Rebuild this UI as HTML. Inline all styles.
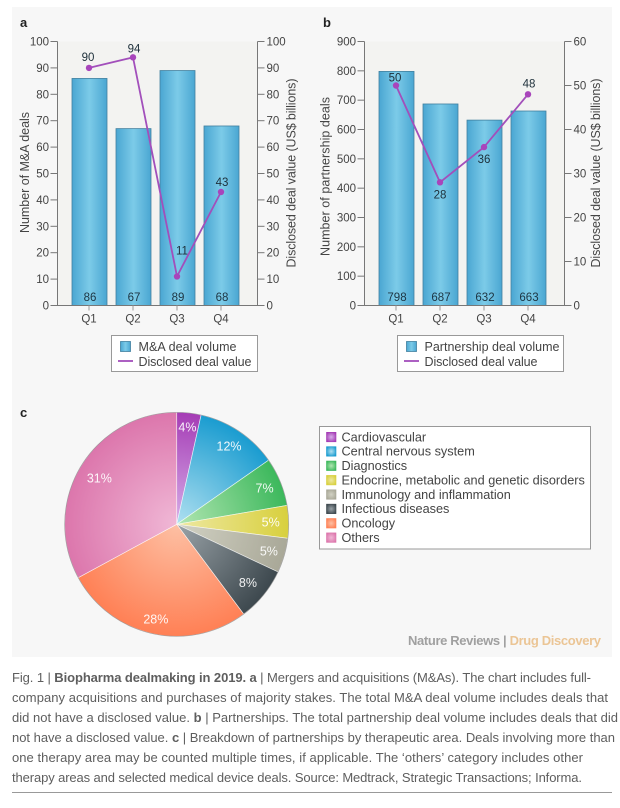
<!DOCTYPE html>
<html lang="en">
<head>
<meta charset="utf-8">
<title>Biopharma dealmaking in 2019</title>
<style>
html,body{margin:0;padding:0;background:#fff;width:620px;height:808px;overflow:hidden}
svg{display:block;font-family:"Liberation Sans",sans-serif}
</style>
</head>
<body>
<svg id="fig" xmlns="http://www.w3.org/2000/svg" width="620" height="808" viewBox="0 0 620 808">
  <defs>
    <linearGradient id="barFill" x1="0" x2="1" y1="0" y2="0">
      <stop offset="0" stop-color="#4aa6d2"/>
      <stop offset="0.5" stop-color="#7ccbe8"/>
      <stop offset="1" stop-color="#4aa6d2"/>
    </linearGradient>
  </defs>
  <rect x="12" y="7" width="600" height="650" fill="#f7f7f7"/>
  <g id="art" style="filter:blur(.35px)">
    <text x="20" y="27" font-size="13" font-weight="bold" fill="#222">a</text>
    <text x="323" y="27" font-size="13" font-weight="bold" fill="#222">b</text>
    <text x="20" y="417" font-size="13" font-weight="bold" fill="#222">c</text>
    <g id="chartA"></g>
    <g id="chartB"></g>
    <g id="chartC"></g>
    <text x="408" y="645" font-size="13" font-weight="bold" fill="#a0a0a0" textLength="193">Nature Reviews | <tspan fill="#ebc595">Drug Discovery</tspan></text>
  </g>
  <g font-size="13" fill="#5e5e5e">
    <text x="12" y="682" textLength="579">Fig. 1 | <tspan font-weight="bold">Biopharma dealmaking in 2019. a</tspan> | Mergers and acquisitions (M&amp;As). The chart includes full-</text>
    <text x="12" y="702" textLength="596">company acquisitions and purchases of majority stakes. The total M&amp;A deal volume includes deals that</text>
    <text x="12" y="722" textLength="606">did not have a disclosed value. <tspan font-weight="bold">b</tspan> | Partnerships. The total partnership deal volume includes deals that did</text>
    <text x="12" y="742" textLength="603">not have a disclosed value. <tspan font-weight="bold">c</tspan> | Breakdown of partnerships by therapeutic area. Deals involving more than</text>
    <text x="12" y="762" textLength="571">one therapy area may be counted multiple times, if applicable. The ‘others’ category includes other</text>
    <text x="12" y="782" textLength="570">therapy areas and selected medical device deals. Source: Medtrack, Strategic Transactions; Informa.</text>
  </g>
  <rect x="12" y="792" width="600" height="1" fill="#999"/>
</svg>
<script>
const quarters = ['Q1', 'Q2', 'Q3', 'Q4'];
const maDealVolume = [86, 67, 89, 68];
const maDealValue = [90, 94, 11, 43];
const maLeftTicks = [0, 10, 20, 30, 40, 50, 60, 70, 80, 90, 100];
const maRightTicks = [0, 10, 20, 30, 40, 50, 60, 70, 80, 90, 100];
const partnershipDealVolume = [798, 687, 632, 663];
const partnershipDealValue = [50, 28, 36, 48];
const partnershipLeftTicks = [0, 100, 200, 300, 400, 500, 600, 700, 800, 900];
const partnershipRightTicks = [0, 10, 20, 30, 40, 50, 60];
const therapyAreas = ['Cardiovascular', 'Central nervous system', 'Diagnostics', 'Endocrine, metabolic and genetic disorders', 'Immunology and inflammation', 'Infectious diseases', 'Oncology', 'Others'];
const therapySliceShare = [3.5, 11.8, 7, 4.7, 5, 7.8, 27.3, 32.9];
const therapyPrinted = [4, 12, 7, 5, 5, 8, 28, 31];

const NS = 'http://www.w3.org/2000/svg';
function make(parent, tag, attrs, text) {
  const node = document.createElementNS(NS, tag);
  for (const k in attrs) node.setAttribute(k, attrs[k]);
  if (text !== undefined) node.textContent = text;
  parent.appendChild(node);
  return node;
}

const plotTop = 41.5, plotBottom = 305.5, plotWidth = 200, barWidth = 35, barStep = 44, barInset = 32;

function yScale(v, max) {
  return plotBottom - (v / max) * (plotBottom - plotTop);
}

function drawBarChart(root, o) {
  const x0 = o.left, x1 = o.left + plotWidth;
  const leftMax = o.leftTicks[o.leftTicks.length - 1];
  const rightMax = o.rightTicks[o.rightTicks.length - 1];
  const xPos = i => x0 + barInset + i * barStep;

  const bg = make(root, 'rect', {x: x0, y: plotTop, width: plotWidth, height: plotBottom - plotTop, fill: '#f3f3f1'});
  
  

  o.volume.forEach((v, i) => {
    const y = yScale(v, leftMax);
    const bar = make(root, 'rect', {x: xPos(i) - barWidth / 2, y: y, width: barWidth, height: plotBottom - y, fill: 'url(#barFill)', stroke: '#41809f', 'stroke-width': 0.8});
    
    
  });

  const axes = make(root, 'path', {fill: 'none', stroke: '#777', 'stroke-width': 1, d:
    'M' + x0 + ' ' + plotTop + 'V' + plotBottom + 'M' + x1 + ' ' + plotTop + 'V' + plotBottom + 'M' + x0 + ' ' + plotBottom + 'H' + x1});
  
  

  o.leftTicks.forEach(t => {
    const y = yScale(t, leftMax);
    const tick = make(root, 'line', {x1: x0 - 7, x2: x0, y1: y, y2: y, stroke: '#777', 'stroke-width': 1});
    
    
    const label = make(root, 'text', {x: x0 - 8.5, y: y + 4, 'text-anchor': 'end', 'font-size': 11.5, fill: '#444'}, String(t));
    
    
  });
  o.rightTicks.forEach(t => {
    const y = yScale(t, rightMax);
    const tick = make(root, 'line', {x1: x1, x2: x1 + 7, y1: y, y2: y, stroke: '#777', 'stroke-width': 1});
    
    
    const label = make(root, 'text', {x: x1 + 9, y: y + 4, 'font-size': 11.5, fill: '#444'}, String(t));
    
    
  });
  o.categories.forEach((c, i) => {
    const tick = make(root, 'line', {x1: xPos(i) - 0.5, x2: xPos(i) - 0.5, y1: plotBottom, y2: plotBottom + 5, stroke: '#999', 'stroke-width': 1});
    
    
    const label = make(root, 'text', {x: xPos(i) - 0.5, y: 322.5, 'text-anchor': 'middle', 'font-size': 11.5, fill: '#444'}, c);
    
    
    const vol = make(root, 'text', {x: xPos(i) + 0.5, y: 301, 'text-anchor': 'middle', 'font-size': 11.5, fill: '#1d3442'}, String(o.volume[i]));
    
    
  });

  const pts = o.value.map((v, i) => xPos(i) - 0.5 + ' ' + yScale(v, rightMax));
  const line = make(root, 'polyline', {points: pts.join(' '), fill: 'none', stroke: '#a24fbb', 'stroke-width': 1.8});
  
  
  o.value.forEach((v, i) => {
    const y = yScale(v, rightMax);
    const dot = make(root, 'circle', {cx: xPos(i) - 0.5, cy: y, r: 3.2, fill: '#a845bb'});
    
    
    const n = o.nudge[i];
    const lab = make(root, 'text', {x: xPos(i) - 0.5 + n[0], y: y + n[1] + 4, 'text-anchor': 'middle', 'font-size': 11.5, fill: '#1d2f3a'}, String(v));
    
    
  });

  const lt = make(root, 'text', {transform: 'translate(' + o.leftTitleX + ' ' + o.leftTitleY + ') rotate(-90)', 'text-anchor': 'middle', 'font-size': 12.5, fill: '#444', textLength: o.leftTitleLen}, o.leftTitle);
  
  
  const rt = make(root, 'text', {transform: 'translate(' + (x1 + o.rightTitleGap) + ' 173) rotate(-90)', 'text-anchor': 'middle', 'font-size': 12.5, fill: '#444', textLength: 189}, 'Disclosed deal value (US$ billions)');
  
  

  const bx = make(root, 'rect', {x: o.legendX + 0.5, y: 335.5, width: o.legendW, height: 36, fill: '#fff', stroke: '#999', 'stroke-width': 1});
  
  
  const sw = make(root, 'rect', {x: o.legendX + 9.5, y: 341.5, width: 10, height: 10, fill: 'url(#barFill)', stroke: '#41809f', 'stroke-width': 0.8});
  
  
  const ls = make(root, 'line', {x1: o.legendX + 7, x2: o.legendX + 22, y1: 361, y2: 361, stroke: '#a24fbb', 'stroke-width': 1.8});
  
  
  const t1 = make(root, 'text', {x: o.legendX + 27.5, y: 351, 'font-size': 12.5, fill: '#444', textLength: o.legendLen}, o.barLegend);
  
  
  const t2 = make(root, 'text', {x: o.legendX + 27.5, y: 366, 'font-size': 12.5, fill: '#444', textLength: 113}, 'Disclosed deal value');
  
  
}

drawBarChart(document.getElementById('chartA'), {
  left: 57.5, categories: quarters, volume: maDealVolume, value: maDealValue,
  leftTicks: maLeftTicks, rightTicks: maRightTicks,
  nudge: [[-1, -11], [1, -9], [5, -26], [1, -10]],
  leftTitle: 'Number of M&A deals', leftTitleX: 29, leftTitleY: 172.5, leftTitleLen: 121, rightTitleGap: 38,
  legendX: 111, legendW: 146, barLegend: 'M&A deal volume', legendLen: 98
});
drawBarChart(document.getElementById('chartB'), {
  left: 364.5, categories: quarters, volume: partnershipDealVolume, value: partnershipDealValue,
  leftTicks: partnershipLeftTicks, rightTicks: partnershipRightTicks,
  nudge: [[-1, -8], [0, 12], [0, 12], [1, -11]],
  leftTitle: 'Number of partnership deals', leftTitleX: 329.5, leftTitleY: 176.5, leftTitleLen: 159, rightTitleGap: 35.5,
  legendX: 397, legendW: 166, barLegend: 'Partnership deal volume', legendLen: 135
});

const pieInner = ['#d6aee8', '#b0e0f0', '#b2e6b2', '#eee8a2', '#d2d2c4', '#9aa3a8', '#fdc0a4', '#f0b8d6'];
const pieOuter = ['#a53cb5', '#1a9cd0', '#3cb85c', '#d8d03e', '#a9a898', '#3d484e', '#ff8055', '#dc76ac'];
const pieLabelRadius = [98, 94, 95, 94, 96, 92, 97, 90];
const pieCx = 176.7, pieCy = 524.3, pieR = 112;

function drawPie(root) {
  const defs = root.ownerSVGElement.querySelector('defs');
  pieInner.forEach((c, i) => {
    const g = make(defs, 'radialGradient', {id: 'slice' + i, gradientUnits: 'userSpaceOnUse', cx: pieCx, cy: pieCy, r: pieR});
    make(g, 'stop', {offset: 0, 'stop-color': c});
    make(g, 'stop', {offset: 1, 'stop-color': pieOuter[i]});
    const s = make(defs, 'radialGradient', {id: 'swatch' + i, cx: 0.5, cy: 0.5, r: 0.6});
    make(s, 'stop', {offset: 0, 'stop-color': c});
    make(s, 'stop', {offset: 1, 'stop-color': pieOuter[i]});
  });
  const total = therapySliceShare.reduce((a, b) => a + b, 0);
  const pt = (deg, r) => {
    const a = deg * Math.PI / 180;
    return [pieCx + r * Math.sin(a), pieCy - r * Math.cos(a)];
  };
  let start = 0;
  therapySliceShare.forEach((v, i) => {
    const sweep = v / total * 360;
    const end = start + sweep;
    const p0 = pt(start, pieR), p1 = pt(end, pieR);
    const slice = make(root, 'path', {
      d: 'M' + pieCx + ' ' + pieCy + 'L' + p0[0] + ' ' + p0[1] + 'A' + pieR + ' ' + pieR + ' 0 ' + (sweep > 180 ? 1 : 0) + ' 1 ' + p1[0] + ' ' + p1[1] + 'Z',
      fill: 'url(#slice' + i + ')', stroke: '#fff', 'stroke-opacity': 0.7, 'stroke-width': 0.7
    });
    
    
    start = end;
  });
  const rim = make(root, 'circle', {cx: pieCx, cy: pieCy, r: pieR, fill: 'none', stroke: '#6b6b6b', 'stroke-opacity': 0.6, 'stroke-width': 0.7});
  
  
  start = 0;
  therapySliceShare.forEach((v, i) => {
    const sweep = v / total * 360;
    const c = pt(start + sweep / 2, pieLabelRadius[i]);
    const lab = make(root, 'text', {x: c[0], y: c[1] + 4.5, 'text-anchor': 'middle', 'font-size': 12.5, fill: '#fff', 'fill-opacity': 0.92}, therapyPrinted[i] + '%');
    
    
    start += sweep;
  });

  const box = make(root, 'rect', {x: 319.5, y: 426.5, width: 271, height: 122.5, fill: '#fff', stroke: '#999', 'stroke-width': 1});
  
  
  therapyAreas.forEach((name, i) => {
    const cy = 437 + i * 14.37;
    const sw = make(root, 'rect', {x: 326.5, y: cy - 4.7, width: 9.5, height: 9.5, fill: 'url(#swatch' + i + ')', stroke: pieOuter[i], 'stroke-width': 0.6});
    
    
    const t = make(root, 'text', {x: 341.5, y: cy + 4.3, 'font-size': 12.7, fill: '#444'}, name);
    
    
  });
}
drawPie(document.getElementById('chartC'));
</script>
</body>
</html>
